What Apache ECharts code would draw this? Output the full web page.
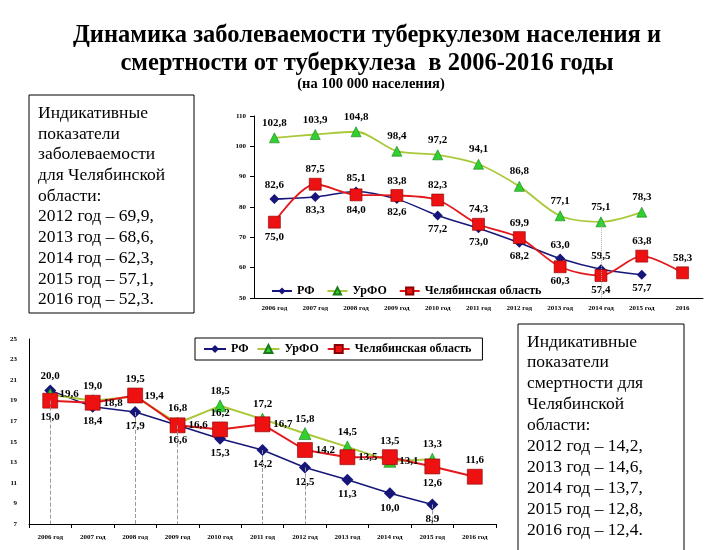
<!DOCTYPE html>
<html>
<head>
<meta charset="utf-8">
<script src="https://cdn.jsdelivr.net/npm/echarts@6/dist/echarts.min.js"></script>
<style>
html, body { margin: 0; padding: 0; background: #fff; }
#main { width: 720px; height: 550px; }
</style>
</head>
<body>
<div id="main"></div>
<script>
// заболеваемость (на 100 000)
var years1 = ['2006 год', '2007 год', '2008 год', '2009 год', '2010 год', '2011 год',
  '2012 год', '2013 год', '2014 год', '2015 год', '2016'];
var rf1 = [82.6, 83.3, 85.1, 82.6, 77.2, 73.0, 68.2, 63.0, 59.5, 57.7, null];
var urfo1 = [102.8, 103.9, 104.8, 98.4, 97.2, 94.1, 86.8, 77.1, 75.1, 78.3, null];
var chel1 = [75.0, 87.5, 84.0, 83.8, 82.3, 74.3, 69.9, 60.3, 57.4, 63.8, 58.3];

// смертность (на 100 000)
var years2 = ['2006 год', '2007 год', '2008 год', '2009 год', '2010 год', '2011 год',
  '2012 год', '2013 год', '2014 год', '2015 год', '2016 год'];
var rf2 = [20.0, 18.4, 17.9, 16.6, 15.3, 14.2, 12.5, 11.3, 10.0, 8.9, null];
var urfo2 = [19.6, 19.0, 19.4, 16.8, 18.5, 17.2, 15.8, 14.5, 13.1, 13.3, null];
var chel2 = [19.0, 18.8, 19.5, 16.6, 16.2, 16.7, 14.2, 13.5, 13.5, 12.6, 11.6];

var leftText = ['Индикативные', 'показатели', 'заболеваемости', 'для Челябинской', 'области:',
  '2012 год – 69,9,', '2013 год – 68,6,', '2014 год – 62,3,', '2015 год – 57,1,', '2016 год – 52,3.'];
var rightText = ['Индикативные', 'показатели', 'смертности для', 'Челябинской', 'области:',
  '2012 год – 14,2,', '2013 год – 14,6,', '2014 год – 13,7,', '2015 год – 12,8,', '2016 год – 12,4.'];

// label placement for each point
var rfPos1 = ['top', 'bottom', 'top', 'bottom', 'bottom', 'bottom', 'bottom', 'top', 'top', 'bottom', 'top'];
var chelPos1 = ['bottom', 'top', 'bottom', 'top', 'top', 'top', 'top', 'bottom', 'bottom', 'top', 'top'];
var rfPos2 = ['top', 'bottom', 'bottom', 'bottom', 'bottom', 'bottom', 'bottom', 'bottom', 'bottom', 'bottom', 'bottom'];
var urfoPos2 = ['right', 'top', 'right', 'top', 'top', 'top', 'top', 'top', 'right', 'top', 'top'];
var chelPos2 = ['bottom', 'right', 'top', 'right', 'top', 'right', 'right', 'right', 'top', 'bottom', 'top'];
var dropYears2 = [0, 2, 3, 5, 6, 9];

var serif = 'Liberation Serif';
var navy = '#16167a', green = '#a9c93a', red = '#e3191c';

function fmt(p) { return p.value == null ? '' : p.value.toFixed(1).replace('.', ','); }

function withPos(vals, pos) {
  return vals.map(function (v, i) {
    return pos ? { value: v, label: { position: pos[i] } } : v;
  });
}

var lbl = { show: true, color: '#000', fontFamily: serif, fontWeight: 'bold', fontSize: 11, distance: 3, formatter: fmt };

var myChart = echarts.init(document.getElementById('main'));

var drops = dropYears2.map(function (i) {
  var lo = Math.min(rf2[i], urfo2[i], chel2[i]);
  return [{ coord: [years2[i], lo] }, { coord: [years2[i], 7] }];
});

var option = {
  animation: false,
  textStyle: { fontFamily: serif },
  title: [
    { text: 'Динамика заболеваемости туберкулезом населения и\nсмертности от туберкулеза  в 2006-2016 годы',
      left: 362, top: 17, textAlign: 'center',
      textStyle: { fontFamily: serif, fontSize: 24.5, fontWeight: 'bold', color: '#000', lineHeight: 28, align: 'center' } },
    { text: '(на 100 000 населения)', left: 366, top: 72, textAlign: 'center',
      textStyle: { fontFamily: serif, fontSize: 14.5, fontWeight: 'bold', color: '#000' } }
  ],
  legend: [
    { left: 266, top: 280, itemWidth: 20, itemHeight: 9, itemGap: 12,
      textStyle: { fontFamily: serif, fontWeight: 'bold', fontSize: 12, color: '#000' },
      data: ['РФ', 'УрФО', 'Челябинская область'] },
    { left: 195, top: 338, itemWidth: 22, itemHeight: 10, itemGap: 5, padding: [5, 8],
      borderColor: '#000', borderWidth: 1,
      textStyle: { fontFamily: serif, fontWeight: 'bold', fontSize: 12, color: '#000' },
      data: ['РФ ', 'УрФО ', 'Челябинская область '] }
  ],
  grid: [
    { left: 254, right: 17, top: 116, bottom: 252 },
    { left: 29, right: 224, top: 339, bottom: 26 }
  ],
  xAxis: [
    { type: 'category', gridIndex: 0, data: years1,
      axisLine: { lineStyle: { color: '#000' } }, axisTick: { show: false },
      axisLabel: { fontFamily: serif, fontSize: 7, fontWeight: 'bold', color: '#000', interval: 0, margin: 7 } },
    { type: 'category', gridIndex: 1, data: years2,
      axisLine: { lineStyle: { color: '#000' } }, axisTick: { show: true, length: 4, lineStyle: { color: '#000' } },
      axisLabel: { fontFamily: serif, fontSize: 7, fontWeight: 'bold', color: '#000', interval: 0, margin: 10 } }
  ],
  yAxis: [
    { type: 'value', gridIndex: 0, min: 50, max: 110, interval: 10,
      axisLine: { show: true, lineStyle: { color: '#000' } }, axisTick: { show: true, length: 4, lineStyle: { color: '#000' } },
      splitLine: { show: false },
      axisLabel: { fontFamily: serif, fontSize: 7, fontWeight: 'bold', color: '#000', margin: 8 } },
    { type: 'value', gridIndex: 1, min: 7, max: 25, interval: 2,
      axisLine: { show: true, lineStyle: { color: '#000' } }, axisTick: { show: false },
      splitLine: { show: false },
      axisLabel: { fontFamily: serif, fontSize: 7, fontWeight: 'bold', color: '#000', margin: 12 } }
  ],
  graphic: [
    { type: 'rect', shape: { x: 29, y: 95, width: 165, height: 218 },
      style: { fill: '#fff', stroke: '#000', lineWidth: 1 } },
    { type: 'text', x: 38, y: 103,
      style: { text: leftText.join('\n'), font: '17.5px "Liberation Serif"', lineHeight: 20.7, fill: '#000' } },
    { type: 'rect', shape: { x: 518, y: 324, width: 166, height: 240 },
      style: { fill: '#fff', stroke: '#000', lineWidth: 1 } },
    { type: 'text', x: 527, y: 331.5,
      style: { text: rightText.join('\n'), font: '17.5px "Liberation Serif"', lineHeight: 20.9, fill: '#000' } }
  ],
  series: [
    { name: 'РФ', type: 'line', xAxisIndex: 0, yAxisIndex: 0, smooth: 0.3,
      data: withPos(rf1, rfPos1), symbol: 'diamond', symbolSize: 10,
      lineStyle: { color: navy, width: 1.5 }, itemStyle: { color: navy },
      label: lbl },
    { name: 'УрФО', type: 'line', xAxisIndex: 0, yAxisIndex: 0, smooth: 0.3,
      data: urfo1, symbol: 'triangle', symbolSize: 10,
      lineStyle: { color: green, width: 1.8 }, itemStyle: { color: '#2ed12e', borderColor: '#1a7a1a', borderWidth: 0.6 },
      label: Object.assign({}, lbl, { position: 'top', distance: 4 }),
      markLine: { silent: true, symbol: 'none', label: { show: false },
        lineStyle: { color: '#aaa', type: 'dotted', width: 1 },
        data: [[{ coord: [years1[8], urfo1[8]] }, { coord: [years1[8], 50] }]] } },
    { name: 'Челябинская область', type: 'line', xAxisIndex: 0, yAxisIndex: 0, smooth: 0.3,
      data: withPos(chel1, chelPos1), symbol: 'rect', symbolSize: 12,
      lineStyle: { color: red, width: 1.8 }, itemStyle: { color: '#ee1111', borderColor: '#8a0000', borderWidth: 0.6 },
      label: lbl },

    { name: 'РФ ', type: 'line', xAxisIndex: 1, yAxisIndex: 1,
      data: withPos(rf2, rfPos2), symbol: 'diamond', symbolSize: 12,
      lineStyle: { color: navy, width: 1.5 }, itemStyle: { color: navy },
      label: lbl,
      markLine: { silent: true, symbol: 'none', label: { show: false },
        lineStyle: { color: '#999', type: 'dashed', width: 1 }, data: drops } },
    { name: 'УрФО ', type: 'line', xAxisIndex: 1, yAxisIndex: 1,
      data: withPos(urfo2, urfoPos2), symbol: 'triangle', symbolSize: 12,
      lineStyle: { color: green, width: 2 }, itemStyle: { color: '#2ed12e', borderColor: '#1a7a1a', borderWidth: 0.6 },
      label: lbl },
    { name: 'Челябинская область ', type: 'line', xAxisIndex: 1, yAxisIndex: 1,
      data: withPos(chel2, chelPos2), symbol: 'rect', symbolSize: 15,
      lineStyle: { color: red, width: 2 }, itemStyle: { color: '#ee1111', borderColor: '#8a0000', borderWidth: 0.6 },
      label: lbl }
  ]
};

option && myChart.setOption(option);
</script>
</body>
</html>
